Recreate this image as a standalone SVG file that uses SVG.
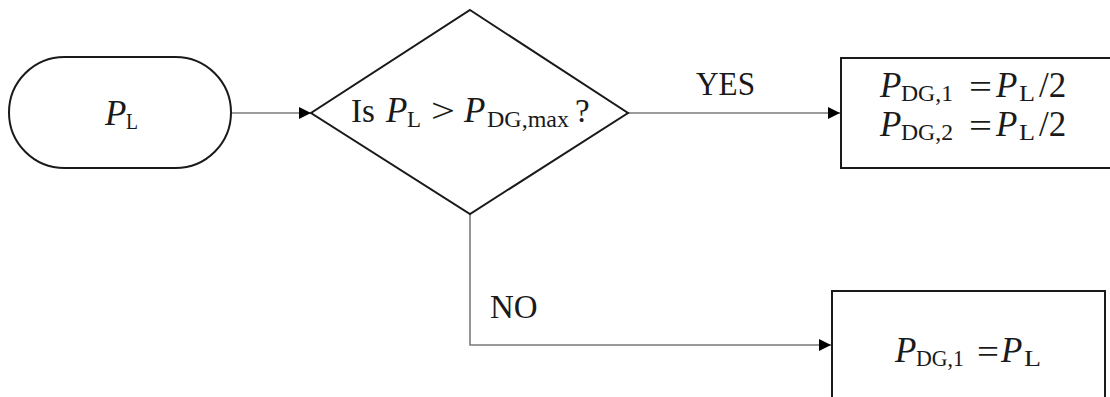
<svg xmlns="http://www.w3.org/2000/svg" width="1110" height="397" viewBox="0 0 1110 397">
  <style>
    .shape { fill: #ffffff; stroke: #1a1a1a; stroke-width: 2; }
    .link { fill: none; stroke: #7a7a7a; stroke-width: 1.6; }
    .txt { font-family: "Liberation Serif", "DejaVu Serif", serif; font-size: 33px; fill: #1a1a1a; }
    .it { font-style: italic; font-size: 35px; }
    .sub { font-size: 24px; }
    .eq { font-size: 34px; }
  </style>
  <defs>
    <marker id="arrow" viewBox="0 0 10 10" refX="10" refY="5" markerWidth="13" markerHeight="12" markerUnits="userSpaceOnUse" orient="auto">
      <path d="M0,0 L10,5 L0,10 z" fill="#000000"/>
    </marker>
  </defs>

  <!-- connectors with their branch labels -->
  <g id="connectors">
    <line class="link" x1="231" y1="113" x2="311" y2="113" marker-end="url(#arrow)"/>
    <line class="link" x1="628" y1="113" x2="840" y2="113" marker-end="url(#arrow)"/>
    <polyline class="link" points="470,214 470,345 831,345" marker-end="url(#arrow)"/>
    <text class="txt" x="696" y="95" textLength="59" lengthAdjust="spacingAndGlyphs">YES</text>
    <text class="txt" x="490" y="318">NO</text>
  </g>

  <!-- start: load power -->
  <g id="start">
    <rect class="shape" x="9" y="57" width="222" height="111" rx="55.5" ry="55.5"/>
    <text class="txt"><tspan class="it" x="105" y="125">P</tspan><tspan class="sub" x="126" y="129" textLength="12" lengthAdjust="spacingAndGlyphs">L</tspan></text>
  </g>

  <!-- decision -->
  <g id="decision">
    <polygon class="shape" points="470,10 628,113 470,214 311,113"/>
    <text class="txt">
      <tspan x="351" y="122">Is</tspan>
      <tspan class="it" x="386" y="122">P</tspan>
      <tspan class="sub" x="407" y="127" textLength="14" lengthAdjust="spacingAndGlyphs">L</tspan>
      <tspan class="eq" x="431" y="122" textLength="24" lengthAdjust="spacingAndGlyphs">&gt;</tspan>
      <tspan class="it" x="464" y="122">P</tspan>
      <tspan class="sub" x="487" y="127" textLength="82" lengthAdjust="spacingAndGlyphs">DG,max</tspan>
      <tspan x="575" y="122">?</tspan>
    </text>
  </g>

  <!-- split load between both generators -->
  <g id="split">
    <rect class="shape" x="841" y="58" width="280" height="110"/>
    <text class="txt">
      <tspan class="it" x="880" y="97">P</tspan>
      <tspan class="sub" x="901" y="101" textLength="52" lengthAdjust="spacingAndGlyphs">DG,1</tspan>
      <tspan class="eq" x="969" y="98" textLength="23" lengthAdjust="spacingAndGlyphs">=</tspan>
      <tspan class="it" x="996" y="97">P</tspan>
      <tspan class="sub" x="1019" y="101" textLength="16" lengthAdjust="spacingAndGlyphs">L</tspan>
      <tspan x="1039" y="97" font-size="35">/2</tspan>
    </text>
    <text class="txt">
      <tspan class="it" x="880" y="136">P</tspan>
      <tspan class="sub" x="901" y="140" textLength="52" lengthAdjust="spacingAndGlyphs">DG,2</tspan>
      <tspan class="eq" x="969" y="137" textLength="23" lengthAdjust="spacingAndGlyphs">=</tspan>
      <tspan class="it" x="996" y="136">P</tspan>
      <tspan class="sub" x="1019" y="140" textLength="16" lengthAdjust="spacingAndGlyphs">L</tspan>
      <tspan x="1039" y="136" font-size="35">/2</tspan>
    </text>
  </g>

  <!-- single generator carries load -->
  <g id="single">
    <rect class="shape" x="832" y="291" width="273" height="130"/>
    <text class="txt">
      <tspan class="it" x="895" y="362">P</tspan>
      <tspan class="sub" x="916" y="366" textLength="48" lengthAdjust="spacingAndGlyphs">DG,1</tspan>
      <tspan class="eq" x="977" y="363" textLength="22" lengthAdjust="spacingAndGlyphs">=</tspan>
      <tspan class="it" x="1001" y="362">P</tspan>
      <tspan class="sub" x="1024" y="366" textLength="17" lengthAdjust="spacingAndGlyphs">L</tspan>
    </text>
  </g>
</svg>
